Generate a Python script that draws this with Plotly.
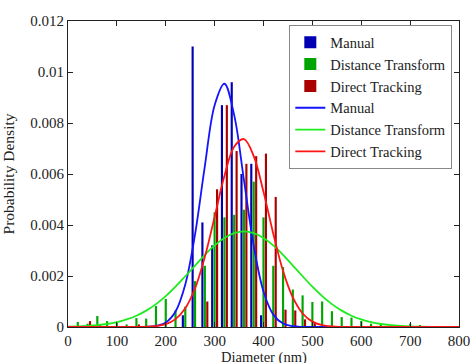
import plotly.graph_objects as go

# Histogram bin centres (nm)
bins = list(range(20, 741, 20))

manual_bins = [240, 260, 280, 300, 320, 340, 360, 380, 400]
manual_vals = [0.00046, 0.011, 0.0041, 0.0032, 0.0087, 0.0096, 0.0060, 0.0064, 0.00046]

dist_bins = bins
dist_vals = [0.0002, 0.00013, 0.00043, 0.00023, 0.00016, 0.0001, 0.00035, 0.00033,
             0.00082, 0.0011, 0.00065, 0.0008, 0.0018, 0.0024, 0.0045, 0.0043,
             0.0044, 0.0046, 0.0057, 0.0043, 0.0024, 0.00235, 0.00147, 0.00124,
             0.00098, 0.001, 0.00062, 0.00039, 0.00037, 0.00024, 0.00013, 0.0001,
             0.00005, 0.00003, 0.00013, 0.00007, 0.00002]

direct_bins = [40, 60, 140, 280, 300, 320, 340, 360, 380, 400, 420, 440, 460, 480, 500]
direct_vals = [0.00023, 0.0001, 0.0001, 0.001, 0.0054, 0.0087, 0.0069, 0.0064, 0.0067,
               0.0068, 0.0051, 0.00068, 0.00065, 0.0003, 0.00016]

# Fitted density curves, read every 20 nm
curve_x = list(range(0, 801, 20))
manual_curve = [0]*8 + [0.0000075, 0.000041, 0.000177, 0.00061, 0.00167, 0.00364, 0.00631,
                         0.0087, 0.00954, 0.00831, 0.00576, 0.00318, 0.00139, 0.000486,
                         0.000135, 0.00003, 0.000005] + [0]*16
dist_curve = [0.0000124, 0.0000229, 0.000041, 0.0000709, 0.000118, 0.00019, 0.000296,
              0.000443, 0.000642, 0.000898, 0.00121, 0.00158, 0.00199, 0.00241, 0.00283,
              0.0032, 0.00349, 0.00368, 0.00375, 0.00368, 0.00349, 0.0032, 0.00283,
              0.00241, 0.00199, 0.00158, 0.00121, 0.000898, 0.000642, 0.000443, 0.000296,
              0.00019, 0.000118, 0.0000709, 0.000041, 0.0000229, 0.0000124, 0.0000065,
              0.0000033, 0.0000016, 0.0000008]
direct_curve = [0]*8 + [0.00001, 0.0000365, 0.000114, 0.00031, 0.000736, 0.00152, 0.00275,
                         0.00432, 0.00592, 0.00707, 0.00737, 0.0067, 0.0053, 0.00366, 0.0022,
                         0.00116, 0.00053, 0.00021, 0.000073, 0.000022, 0.000006] + [0]*12

x_ticks = [0, 100, 200, 300, 400, 500, 600, 700, 800]
y_ticks = [0, 0.002, 0.004, 0.006, 0.008, 0.01, 0.012]
y_tick_text = ["0", "0.002", "0.004", "0.006", "0.008", "0.01", "0.012"]
x_title = "Diameter (nm)"
y_title = "Probability Density"

font = "Liberation Serif"

fig = go.Figure()
fig.add_trace(go.Bar(x=manual_bins, y=manual_vals, name="Manual",
                     marker=dict(color="rgb(0,0,178)", line=dict(width=0))))
fig.add_trace(go.Bar(x=dist_bins, y=dist_vals, name="Distance Transform",
                     marker=dict(color="rgb(0,165,0)", line=dict(width=0))))
fig.add_trace(go.Bar(x=direct_bins, y=direct_vals, name="Direct Tracking",
                     marker=dict(color="rgb(170,0,0)", line=dict(width=0))))
fig.add_trace(go.Scatter(x=curve_x, y=manual_curve, mode="lines", name="Manual",
                         line=dict(color="rgb(20,20,255)", width=1.8, shape="spline")))
fig.add_trace(go.Scatter(x=curve_x, y=dist_curve, mode="lines", name="Distance Transform",
                         line=dict(color="rgb(30,235,30)", width=1.8, shape="spline")))
fig.add_trace(go.Scatter(x=curve_x, y=direct_curve, mode="lines", name="Direct Tracking",
                         line=dict(color="rgb(255,20,20)", width=1.8, shape="spline")))

fig.update_layout(
    width=472, height=363,
    margin=dict(l=68, r=13, t=21, b=36),
    paper_bgcolor="white", plot_bgcolor="white",
    barmode="group", bargap=0.25, bargroupgap=0.12,
    font=dict(family=font, size=15, color="#222"),
    showlegend=True,
    legend=dict(x=0.566, y=0.986, xanchor="left", yanchor="top",
                bgcolor="white", bordercolor="#888", borderwidth=1,
                font=dict(family=font, size=14.5, color="#222"),
                tracegroupgap=0, itemwidth=30),
    annotations=[dict(text=x_title, xref="paper", yref="paper", x=0.5, y=-0.0985,
                      xanchor="center", yanchor="middle", showarrow=False,
                      font=dict(family=font, size=14.5, color="#222"), borderpad=0)],
)
fig.update_xaxes(range=[0, 800], tickvals=x_ticks, showgrid=False, zeroline=False,
                 showline=True, linecolor="#222", linewidth=1, mirror="ticks",
                 ticks="inside", ticklen=5, tickcolor="#222", automargin=False,
                 tickfont=dict(family=font, size=15))
fig.update_yaxes(range=[0, 0.012], tickvals=y_ticks, ticktext=y_tick_text, showgrid=False,
                 zeroline=False, showline=True, linecolor="#222", linewidth=1, mirror="ticks",
                 ticks="inside", ticklen=5, tickcolor="#222", automargin=False,
                 tickfont=dict(family=font, size=15),
                 title=dict(text=y_title, font=dict(family=font, size=15.5)))

fig.write_html("out.html", config={"displayModeBar": False},
               post_script="document.body.style.margin='0';document.body.style.overflow='hidden';")
